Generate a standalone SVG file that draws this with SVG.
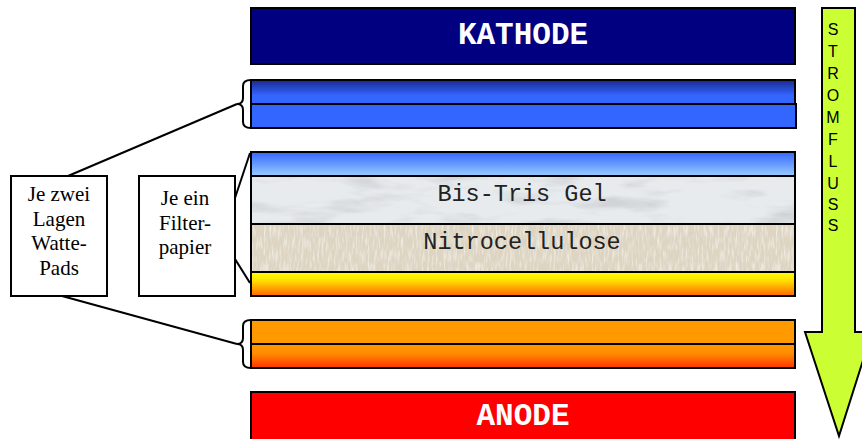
<svg xmlns="http://www.w3.org/2000/svg" width="862" height="439" viewBox="0 0 862 439">
<style>
.band{stroke:#000;stroke-width:2}
.box{fill:#fff;stroke:#000;stroke-width:2}
.ln{fill:none;stroke:#000;stroke-width:2}
.big{font-family:"Liberation Mono","Courier New",monospace;font-weight:bold;font-size:31px;fill:#fff;text-anchor:middle}
.mono{font-family:"Liberation Mono","Courier New",monospace;font-size:23.5px;fill:#222;text-anchor:middle}
.ser{font-family:"Liberation Serif","Times New Roman",serif;font-size:21px;fill:#000;text-anchor:middle}
.arw{font-family:"Liberation Sans",Arial,sans-serif;font-size:16px;fill:#000;text-anchor:middle}
</style>
<defs>
<linearGradient id="gBlueTop" x1="0" y1="0" x2="0" y2="1"><stop offset="0" stop-color="#1a2890"/><stop offset="0.65" stop-color="#3366ff"/><stop offset="1" stop-color="#3366ff"/></linearGradient>
<linearGradient id="gBlueLight" x1="0" y1="0" x2="0" y2="1"><stop offset="0" stop-color="#3366ff"/><stop offset="1" stop-color="#99ccff"/></linearGradient>
<linearGradient id="gYellow" x1="0" y1="0" x2="0" y2="1"><stop offset="0" stop-color="#ffff00"/><stop offset="0.35" stop-color="#ffe000"/><stop offset="1" stop-color="#ff6600"/></linearGradient>
<linearGradient id="gOrange" x1="0" y1="0" x2="0" y2="1"><stop offset="0" stop-color="#ff9900"/><stop offset="0.4" stop-color="#ff8c00"/><stop offset="1" stop-color="#ff3300"/></linearGradient>
<filter id="marble" x="0" y="0" width="100%" height="100%">
<feTurbulence type="fractalNoise" baseFrequency="0.012 0.05" numOctaves="4" seed="7" result="n"/>
<feColorMatrix in="n" type="matrix" values="0 0 0 0 0.45 0 0 0 0 0.47 0 0 0 0 0.5 1.8 0 0 0 -0.85" result="s"/>
<feComposite in="s" in2="SourceGraphic" operator="in" result="s2"/>
<feMerge><feMergeNode in="SourceGraphic"/><feMergeNode in="s2"/></feMerge>
</filter>
<filter id="canvas" x="0" y="0" width="100%" height="100%">
<feTurbulence type="fractalNoise" baseFrequency="0.5 0.08" numOctaves="2" seed="2" result="n"/>
<feColorMatrix in="n" type="matrix" values="0 0 0 0 0.98 0 0 0 0 0.96 0 0 0 0 0.92 1.4 0 0 0 -0.6" result="s"/>
<feComposite in="s" in2="SourceGraphic" operator="in" result="s2"/>
<feMerge><feMergeNode in="SourceGraphic"/><feMergeNode in="s2"/></feMerge>
</filter>
</defs>

<g id="arrow">
<polygon points="822,8 855,8 855,332 872,332 839,436 805,332 822,332" fill="#ccff33" stroke="#000" stroke-width="2"/>
<text class="arw" x="833" y="35">S</text>
<text class="arw" x="833" y="57">T</text>
<text class="arw" x="833" y="79">R</text>
<text class="arw" x="833" y="101">O</text>
<text class="arw" x="833" y="123">M</text>
<text class="arw" x="833" y="145">F</text>
<text class="arw" x="833" y="167">L</text>
<text class="arw" x="833" y="189">U</text>
<text class="arw" x="833" y="210">S</text>
<text class="arw" x="833" y="231">S</text>
</g>

<g id="kathode">
<rect class="band" x="251" y="8" width="544" height="56" fill="#000080"/>
<text class="big" x="523" y="44">KATHODE</text>
</g>

<g id="pads-top">
<rect class="band" x="251" y="80" width="544" height="24" fill="url(#gBlueTop)"/>
<rect class="band" x="251" y="104" width="545" height="24" fill="#3366ff"/>
</g>

<g id="sandwich">
<rect class="band" x="251" y="152" width="544" height="24" fill="url(#gBlueLight)"/>
<rect x="251" y="176" width="544" height="48" fill="#e8ebee" filter="url(#marble)"/>
<rect class="band" x="251" y="176" width="544" height="48" fill="none"/>
<text class="mono" x="522" y="201">Bis-Tris Gel</text>
<rect x="251" y="224" width="544" height="48" fill="#ddd4c2" filter="url(#canvas)"/>
<rect class="band" x="251" y="224" width="544" height="48" fill="none"/>
<text class="mono" x="522" y="249">Nitrocellulose</text>
<rect class="band" x="251" y="272" width="544" height="24" fill="url(#gYellow)"/>
</g>

<g id="pads-bottom">
<rect class="band" x="251" y="320" width="544" height="24" fill="#ff9900"/>
<rect class="band" x="251" y="344" width="544" height="24" fill="url(#gOrange)"/>
</g>

<g id="anode">
<rect class="band" x="251" y="392" width="544" height="60" fill="#ff0000"/>
<text class="big" x="523" y="425">ANODE</text>
</g>

<g id="connectors">
<path class="ln" d="M251,80 Q243,80 243,86 L243,98 Q243,104 237,104 Q243,104 243,110 L243,122 Q243,128 251,128"/>
<path class="ln" d="M251,320 Q243,320 243,326 L243,338 Q243,344 237,344 Q243,344 243,350 L243,362 Q243,368 251,368"/>
<line class="ln" x1="68" y1="176" x2="237" y2="104"/>
<line class="ln" x1="62" y1="296" x2="237" y2="344"/>
<line class="ln" x1="235" y1="198" x2="250" y2="153"/>
<line class="ln" x1="235" y1="259" x2="250" y2="283"/>
</g>

<g id="watte-label">
<rect class="box" x="11" y="176" width="96" height="120"/>
<text class="ser" x="59" y="201">Je zwei</text>
<text class="ser" x="59" y="226">Lagen</text>
<text class="ser" x="59" y="250">Watte-</text>
<text class="ser" x="59" y="275">Pads</text>
</g>

<g id="filter-label">
<rect class="box" x="139" y="176" width="96" height="120"/>
<text class="ser" x="185" y="205">Je ein</text>
<text class="ser" x="185" y="230">Filter-</text>
<text class="ser" x="185" y="254">papier</text>
</g>
</svg>
